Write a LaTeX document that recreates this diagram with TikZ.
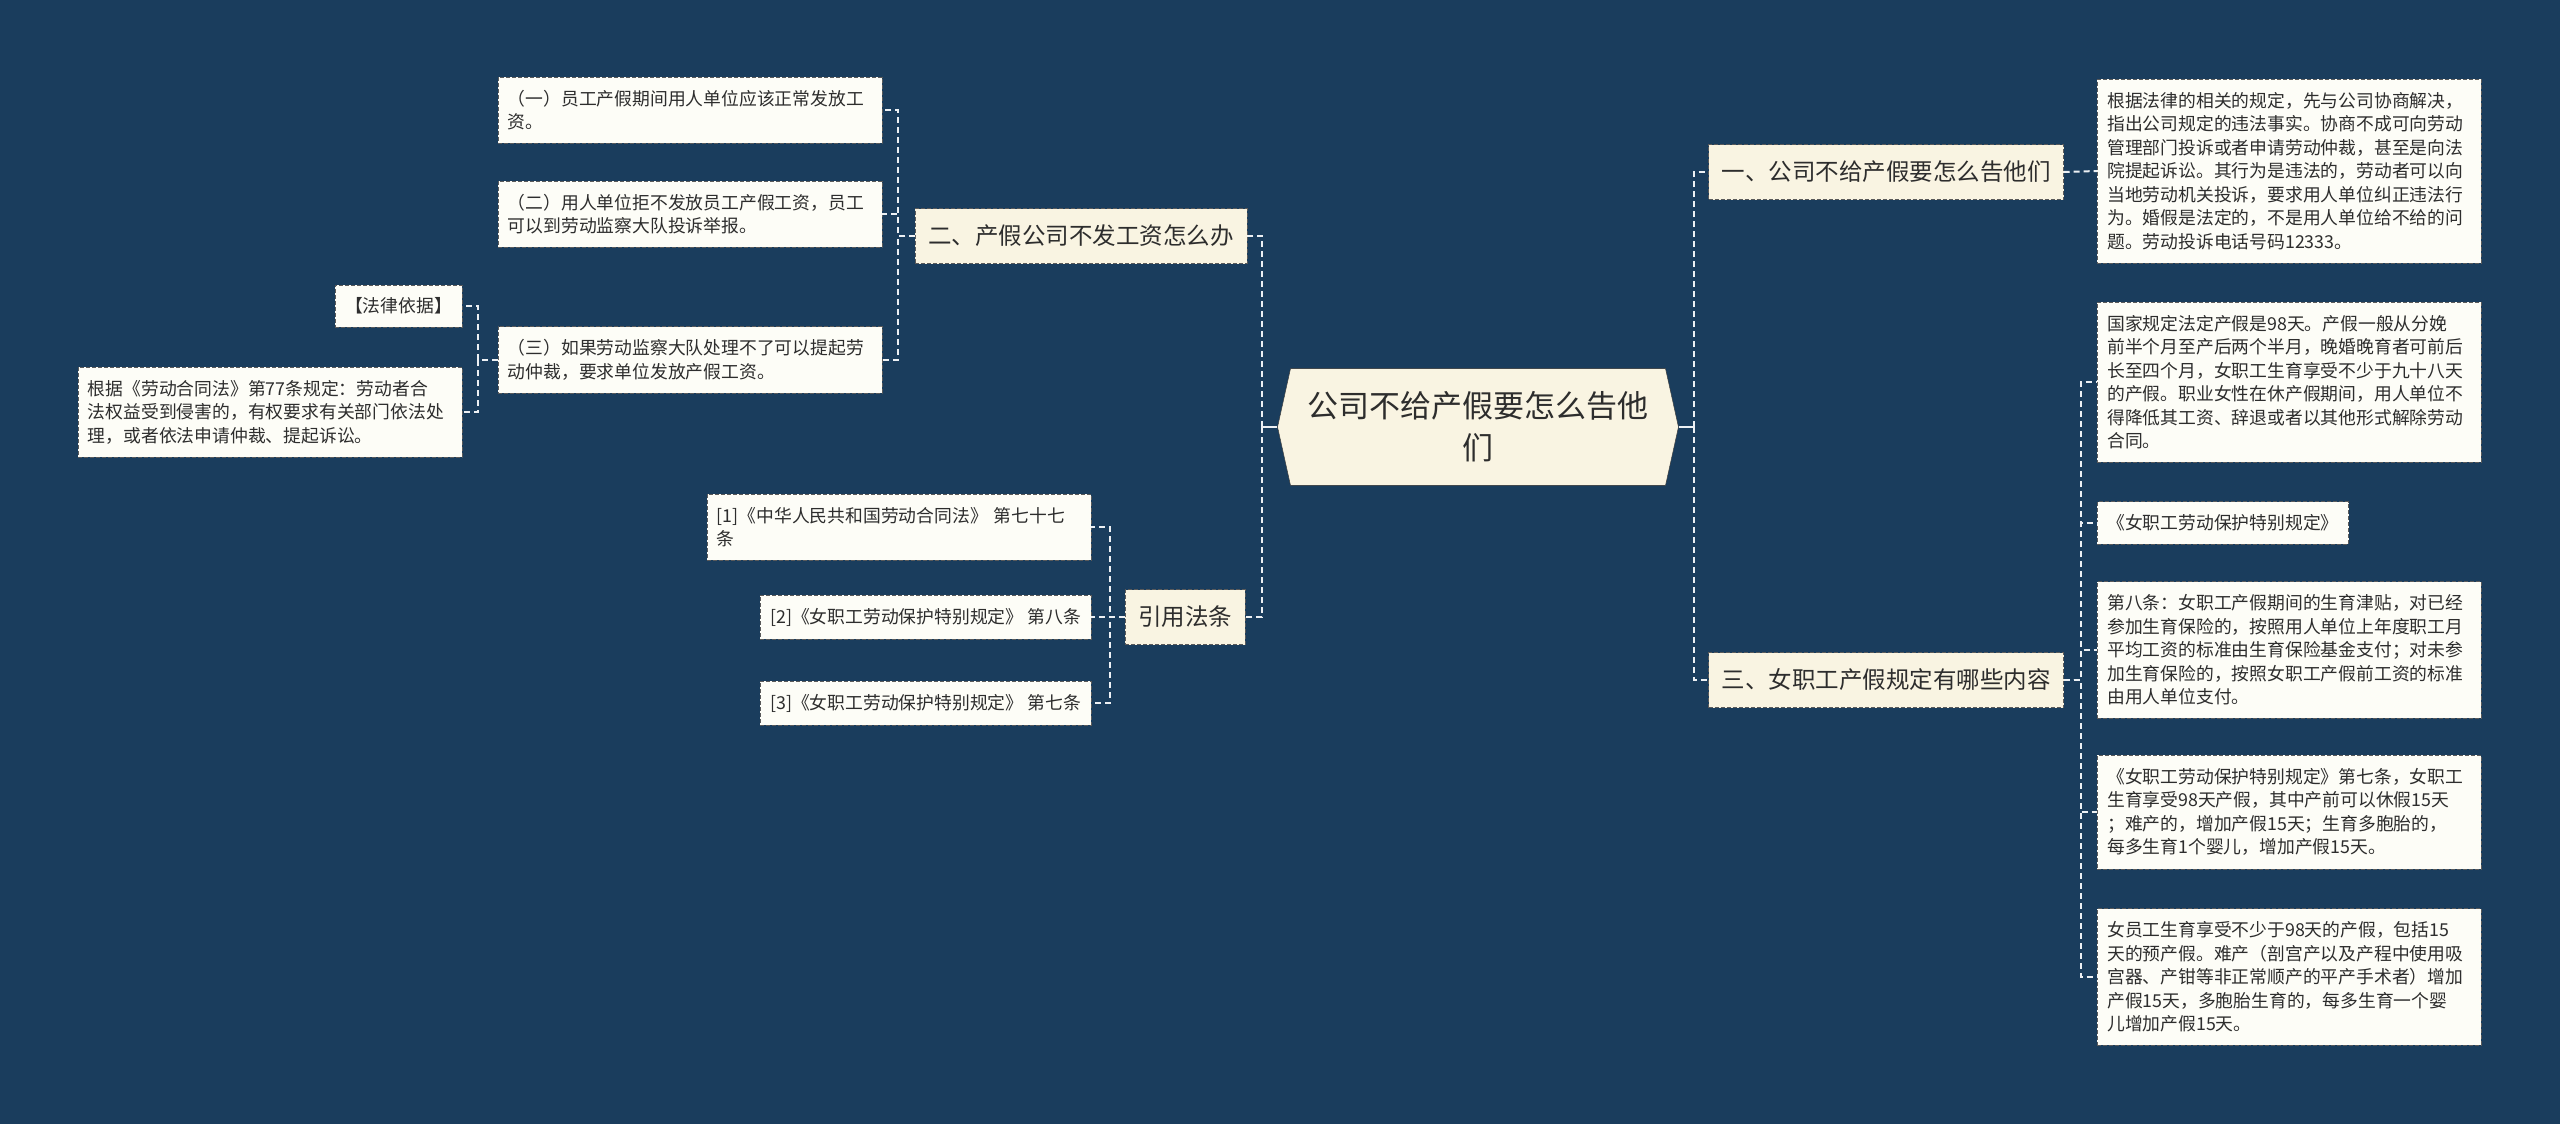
\documentclass[tikz,border=0pt]{standalone}
\usepackage{fontspec}
\setmainfont{Noto Sans CJK SC}
\usetikzlibrary{shapes.symbols}
\definecolor{bg}{RGB}{26,61,93}
\definecolor{ink}{RGB}{45,45,45}
\definecolor{rim}{RGB}{90,90,90}
\definecolor{cream}{RGB}{249,244,226}
\definecolor{paper}{RGB}{253,253,247}
\definecolor{wire}{RGB}{236,240,244}
\tikzset{
  topic/.style={draw=rim,dash pattern=on 4pt off 2pt,fill=cream,text=ink,
    font=\fontsize{23.5}{28}\selectfont,inner xsep=13pt,minimum height=55pt},
  leaf/.style={draw=rim,dash pattern=on 4pt off 2pt,fill=paper,text=ink,
    font=\fontsize{17.8}{23.5}\selectfont,align=left,inner xsep=10pt,inner ysep=13pt},
  leafw/.style={leaf,text width=364pt},
}

\begin{document}
\begin{tikzpicture}[x=1pt,y=-1pt,
  link/.style={draw=wire,line width=2pt,dash pattern=on 6pt off 4pt},
  stem/.style={draw=wire,line width=2pt},
  hub/.style={draw=ink,fill=cream,text=ink,signal,signal to=west and east,
    signal pointer angle=155,font=\fontsize{31}{42}\selectfont,align=center,
    inner xsep=17pt,inner ysep=23pt}]
  \fill[bg] (0,0) rectangle (2560,1124);
  \useasboundingbox (0,0) rectangle (2560,1124);
  % centre
  \node[hub] (cen) at (1478,427) {公司不给产假要怎么告他\\们};
  % left topics
  \node[topic] (n2) at (1081,236) {二、产假公司不发工资怎么办};
  \node[topic] (ny) at (1185,617) {引用法条};
  % right topics
  \node[topic] (n1) at (1886,172) {一、公司不给产假要怎么告他们};
  \node[topic] (n3) at (1886,680) {三、女职工产假规定有哪些内容};
  % children of n2
  \node[leafw,anchor=east] (a1) at (882,110) {（一）员工产假期间用人单位应该正常发放工\\资。};
  \node[leafw,anchor=east] (a2) at (882,214) {（二）用人单位拒不发放员工产假工资，员工\\可以到劳动监察大队投诉举报。};
  \node[leafw,anchor=east] (a3) at (882,360) {（三）如果劳动监察大队处理不了可以提起劳\\动仲裁，要求单位发放产假工资。};
  \node[leaf,anchor=east] (b1) at (462,306) {【法律依据】};
  \node[leafw,anchor=east] (b2) at (462,412) {根据《劳动合同法》第77条规定：劳动者合\\法权益受到侵害的，有权要求有关部门依法处\\理，或者依法申请仲裁、提起诉讼。};
  % children of ny
  \node[leafw,anchor=east] (r1) at (1091,527) {[1]《中华人民共和国劳动合同法》 第七十七\\条};
  \node[leaf,anchor=east] (r2) at (1091,617) {[2]《女职工劳动保护特别规定》 第八条};
  \node[leaf,anchor=east] (r3) at (1091,703) {[3]《女职工劳动保护特别规定》 第七条};
  % children of n1 and n3
  \node[leafw,anchor=west] (d1) at (2097,171) {根据法律的相关的规定，先与公司协商解决，\\指出公司规定的违法事实。协商不成可向劳动\\管理部门投诉或者申请劳动仲裁，甚至是向法\\院提起诉讼。其行为是违法的，劳动者可以向\\当地劳动机关投诉，要求用人单位纠正违法行\\为。婚假是法定的，不是用人单位给不给的问\\题。劳动投诉电话号码12333。};
  \node[leafw,anchor=west] (e1) at (2097,382) {国家规定法定产假是98天。产假一般从分娩\\前半个月至产后两个半月，晚婚晚育者可前后\\长至四个月，女职工生育享受不少于九十八天\\的产假。职业女性在休产假期间，用人单位不\\得降低其工资、辞退或者以其他形式解除劳动\\合同。};
  \node[leaf,anchor=west] (e2) at (2097,523) {《女职工劳动保护特别规定》};
  \node[leafw,anchor=west] (e3) at (2097,650) {第八条：女职工产假期间的生育津贴，对已经\\参加生育保险的，按照用人单位上年度职工月\\平均工资的标准由生育保险基金支付；对未参\\加生育保险的，按照女职工产假前工资的标准\\由用人单位支付。};
  \node[leafw,anchor=west] (e4) at (2097,812) {《女职工劳动保护特别规定》第七条，女职工\\生育享受98天产假，其中产前可以休假15天\\；难产的，增加产假15天；生育多胞胎的，\\每多生育1个婴儿，增加产假15天。};
  \node[leafw,anchor=west] (e5) at (2097,977) {女员工生育享受不少于98天的产假，包括15\\天的预产假。难产（剖宫产以及产程中使用吸\\宫器、产钳等非正常顺产的平产手术者）增加\\产假15天，多胞胎生育的，每多生育一个婴\\儿增加产假15天。};
  % connectors
  \draw[stem] (cen.west) -- ++(-15,0);
  \draw[stem] (cen.east) -- ++(15,0);
  \draw[link] ([xshift=-15pt]cen.west) |- (n2.east);
  \draw[link] ([xshift=-15pt]cen.west) |- (ny.east);
  \draw[link] ([xshift=15pt]cen.east) |- (n1.west);
  \draw[link] ([xshift=15pt]cen.east) |- (n3.west);
  \foreach \c in {a1,a2,a3} \draw[link] (n2.west) -- ++(-17,0) |- (\c.east);
  \foreach \c in {b1,b2} \draw[link] (a3.west) -- ++(-20,0) |- (\c.east);
  \foreach \c in {r1,r2,r3} \draw[link] (ny.west) -- ++(-15,0) |- (\c.east);
  \draw[link] (n1.east) -- (d1.west);
  \foreach \c in {e1,e2,e3,e4,e5} \draw[link] (n3.east) -- ++(17,0) |- (\c.west);
\end{tikzpicture}
\end{document}
